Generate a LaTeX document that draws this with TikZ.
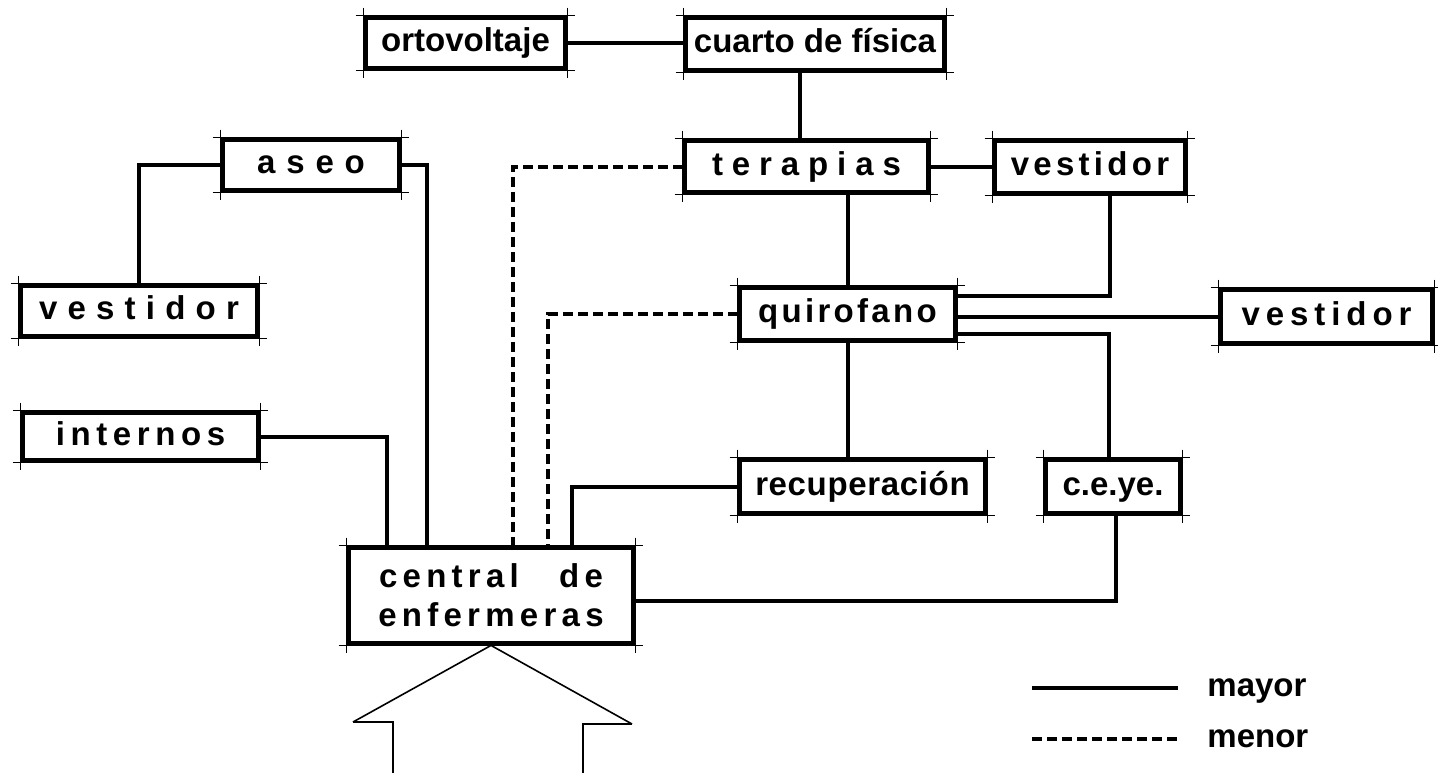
\documentclass[tikz,border=0pt]{standalone}
\usepackage{fontspec}
\setmainfont{Liberation Sans}
\newcommand{\ls}[2]{{\addfontfeature{LetterSpace=#1}#2}}
\newcommand{\boxticks}[1]{%
  \draw[tick] ([xshift=-4pt]#1.north west) -- ([xshift=4pt]#1.north east);
  \draw[tick] ([xshift=-4pt]#1.south west) -- ([xshift=4pt]#1.south east);
  \draw[tick] ([yshift=4pt]#1.north west) -- ([yshift=-4pt]#1.south west);
  \draw[tick] ([yshift=4pt]#1.north east) -- ([yshift=-4pt]#1.south east);
}
\tikzset{
  boxbase/.style={draw, line width=2.4pt, inner sep=0pt, font=\bfseries\fontsize{16.5}{19.5}\selectfont},
  box/.style={boxbase, text height=8.6pt, text depth=0pt},
  con/.style={line width=2pt},
  dsh/.style={line width=2pt, dash pattern=on 5pt off 2.5pt},
  tick/.style={line width=0.6pt},
  thinline/.style={line width=0.8pt},
  lbl/.style={font=\bfseries\fontsize{16.5}{19.5}\selectfont, inner sep=0pt, anchor=west, text height=8.6pt, text depth=0pt},
}
\begin{document}
\begin{tikzpicture}[x=0.5pt,y=-0.5pt]
\fill[white] (0,0) rectangle (1438,773);
\useasboundingbox (0,0) rectangle (1438,773);

% boxes
\node[box, minimum width=99.5pt, minimum height=25pt] (orto) at (465.5,43) {ortovoltaje};
\node[box, minimum width=129pt, minimum height=26pt] (cuarto) at (815,44) {cuarto de física};
\node[box, minimum width=121.5pt, minimum height=25.5pt] (terapias) at (806.5,166.5) {\ls{27}{terapias}};
\node[box, minimum width=95pt, minimum height=26pt] (vestT) at (1090,167) {\ls{13}{vestidor}};
\node[box, minimum width=88pt, minimum height=25pt] (aseo) at (311,165) {\ls{33}{aseo}};
\node[box, minimum width=118pt, minimum height=25pt] (vestL) at (139,311) {\ls{31}{vestidor}};
\node[box, minimum width=107.5pt, minimum height=26pt] (quiro) at (847.5,314) {\ls{10}{quirofano}};
\node[box, minimum width=105.5pt, minimum height=26.5pt] (vestR) at (1326.5,316.5) {\ls{18}{vestidor}};
\node[box, minimum width=117.5pt, minimum height=23.5pt] (internos) at (140.5,436.5) {\ls{17}{internos}};
\node[box, minimum width=122.5pt, minimum height=26.5pt] (recup) at (862.5,486.5) {\ls{2}{recuperación}};
\node[box, minimum width=67pt, minimum height=26.5pt] (ceye) at (1113,486.5) {c.e.ye.};
\node[boxbase, minimum width=142pt, minimum height=47.5pt, align=center] (central) at (491,595.5)
  {\ls{16}{\makebox[112pt]{central\hfill de}}\\\ls{16}{enfermeras}};

\foreach \n in {orto,cuarto,terapias,vestT,aseo,vestL,quiro,vestR,internos,recup,ceye,central}{\boxticks{\n}}

% junction coordinates
\coordinate (j1) at (800,0);
\coordinate (xq) at (848,0);
\coordinate (v1) at (1110,296);
\coordinate (c1) at (1109,334);
\coordinate (c2) at (1116,601);
\coordinate (r2) at (572,0);
\coordinate (d1) at (513,0);
\coordinate (d2) at (548,0);
\coordinate (a2) at (427,0);
\coordinate (i2) at (387,0);

% solid connectors
\draw[con] (orto.east) -- (orto.east -| cuarto.west);
\draw[con] (cuarto.south -| j1) -- (terapias.north -| j1);
\draw[con] (terapias.east) -- (terapias.east -| vestT.west);
\draw[con] (terapias.south -| xq) -- (quiro.north -| xq);
\draw[con] (vestT.south -| v1) |- (quiro.east |- v1);
\draw[con] (quiro.east |- vestR.west) -- (vestR.west);
\draw[con] (quiro.east |- c1) -| (ceye.north -| c1);
\draw[con] (ceye.south -| c2) |- (central.east |- c2);
\draw[con] (quiro.south -| xq) -- (recup.north -| xq);
\draw[con] (recup.west) -| (r2 |- central.north);
\draw[con] (aseo.west) -| (vestL.north);
\draw[con] (aseo.east) -| (a2 |- central.north);
\draw[con] (internos.east) -| (i2 |- central.north);

% dashed connectors
\draw[dsh] (terapias.west) -| (d1 |- central.north);
\draw[dsh] (quiro.west) -| (d2 |- central.north);

% entrance arrow
\coordinate (aL) at (353,722);
\coordinate (aR) at (632,724);
\draw[thinline] (aL) -- (central.south) -- (aR);
\draw[thinline] (aL) -- (393,722) -- (393,773);
\draw[thinline] (aR) -- (583,724) -- (583,773);

% legend
\coordinate (lg1) at (1032,688);
\coordinate (lg2) at (1032,739);
\node[lbl] (mayor) at (1207,688) {mayor};
\node[lbl] (menor) at (1207,739) {menor};
\draw[con] (lg1) -- (lg1 -| 1178,0);
\draw[dsh] (lg2) -- (lg2 -| 1178,0);
\end{tikzpicture}
\end{document}
